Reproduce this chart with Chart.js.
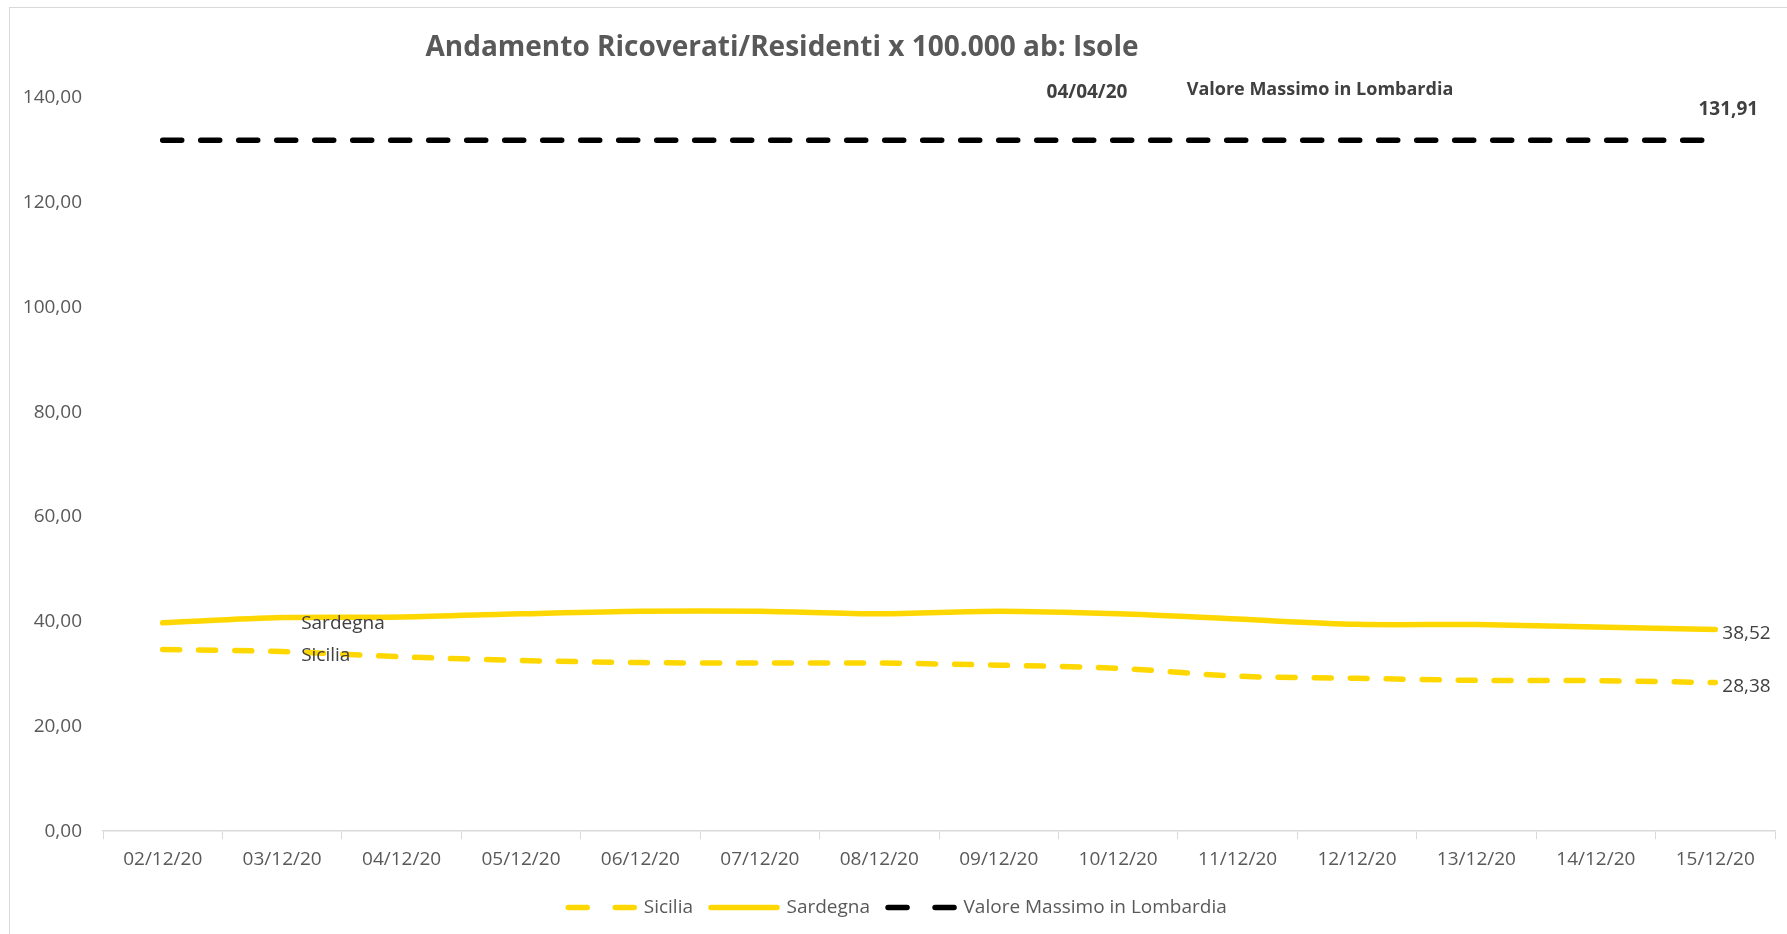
<!DOCTYPE html>
<html>
<head>
<meta charset="utf-8">
<script src="https://cdn.jsdelivr.net/npm/chart.js@4"></script>
<style>
  html, body { margin: 0; padding: 0; background: #fff; overflow: hidden; }
  #wrap { position: relative; width: 1787px; height: 934px; }
</style>
</head>
<body>
<div id="wrap"><canvas id="chart"></canvas></div>
<script>
const dates = ['02/12/20', '03/12/20', '04/12/20', '05/12/20', '06/12/20', '07/12/20', '08/12/20',
  '09/12/20', '10/12/20', '11/12/20', '12/12/20', '13/12/20', '14/12/20', '15/12/20'];
const sicilia = [34.7, 34.3, 33.3, 32.6, 32.2, 32.1, 32.1, 31.7, 31.1, 29.6, 29.2, 28.8, 28.75, 28.38];
const sardegna = [39.8, 40.8, 40.9, 41.5, 42.0, 42.0, 41.5, 42.0, 41.5, 40.5, 39.5, 39.45, 39.0, 38.52];
const lombardiaMax = [131.91, 131.91, 131.91, 131.91, 131.91, 131.91, 131.91,
  131.91, 131.91, 131.91, 131.91, 131.91, 131.91, 131.91];
const yTicks = [0, 20, 40, 60, 80, 100, 120, 140];

const FONT = "'Open Sans', sans-serif";
const GREY = '#595959';
const DARK = '#404040';
const GOLD = '#FFD700';

const fmt = v => v.toFixed(2).replace('.', ',');

// titolo, bordo, etichette
const extras = {
  id: 'extras',
  beforeDraw(chart) {
    const c = chart.ctx;
    c.save();
    c.strokeStyle = '#d9d9d9';
    c.lineWidth = 1;
    c.strokeRect(9.5, 7.5, 2000, 2000);
    c.restore();
  },
  afterDatasetsDraw(chart) {
    const c = chart.ctx;
    const sic = chart.getDatasetMeta(0).data;
    const sar = chart.getDatasetMeta(1).data;
    const lom = chart.getDatasetMeta(2).data;
    const last = dates.length - 1;
    c.save();
    c.fillStyle = GREY;
    c.textBaseline = 'middle';

    c.font = 'bold 28px ' + FONT;
    c.textAlign = 'center';
    c.fillText('Andamento Ricoverati/Residenti x 100.000 ab: Isole', 782, 48);

    c.fillStyle = DARK;
    c.font = 'bold 19px ' + FONT;
    c.fillText('04/04/20', 1087, 93);
    c.fillText(fmt(lombardiaMax[last]), lom[last].x + 13, lom[last].y - 31);
    c.font = 'bold 18px ' + FONT;
    c.fillText('Valore Massimo in Lombardia', 1320, 90);

    c.font = '19px ' + FONT;
    c.textAlign = 'left';
    c.fillText(fmt(sardegna[last]), sar[last].x + 7, sar[last].y + 4);
    c.fillText(fmt(sicilia[last]), sic[last].x + 7, sic[last].y + 4);
    c.fillText('Sardegna', sar[1].x + 19, sar[1].y + 6);
    c.fillText('Sicilia', sic[1].x + 19, sic[1].y + 4);
    c.restore();
  }
};

new Chart(document.getElementById('chart'), {
  type: 'line',
  data: {
    labels: dates,
    datasets: [
      {
        label: 'Sicilia', data: sicilia, borderColor: GOLD, backgroundColor: GOLD,
        borderWidth: 5.5, borderDash: [17, 19], borderCapStyle: 'round', tension: 0.3,
        pointRadius: 0,
      },
      {
        label: 'Sardegna', data: sardegna, borderColor: GOLD, backgroundColor: GOLD,
        borderWidth: 5.5, borderCapStyle: 'round', tension: 0.3, pointRadius: 0,
      },
      {
        label: 'Valore Massimo in Lombardia', data: lombardiaMax, borderColor: '#000',
        backgroundColor: '#000', borderWidth: 5.5, borderDash: [19, 19], borderCapStyle: 'round',
        pointRadius: 0,
      },
    ],
  },
  options: {
    responsive: true,
    maintainAspectRatio: false,
    animation: false,
    layout: { padding: { top: 98, left: 20, right: 12, bottom: 7 } },
    scales: {
      x: {
        offset: true,
        grid: { display: true, drawOnChartArea: false, offset: true, color: '#d9d9d9', tickLength: 8 },
        border: { display: true, color: '#d9d9d9', width: 1.5 },
        ticks: { color: GREY, font: { family: FONT, size: 19 }, padding: 9, maxRotation: 0 },
      },
      y: {
        min: 0, max: 140,
        afterBuildTicks: s => { s.ticks = yTicks.map(v => ({ value: v })); },
        afterFit: s => { s.width = 83; },
        grid: { display: false, drawTicks: false },
        border: { display: false },
        ticks: { color: GREY, font: { family: FONT, size: 19 }, padding: 21, callback: v => fmt(v) },
      },
    },
    plugins: {
      title: { display: false },
      tooltip: { enabled: false },
      legend: {
        position: 'bottom',
        labels: {
          usePointStyle: true,
          pointStyle: 'line',
          pointStyleWidth: 66,
          color: GREY,
          font: { family: FONT, size: 19 },
          padding: 18,
          generateLabels(chart) {
            const items = Chart.defaults.plugins.legend.labels.generateLabels(chart);
            items.forEach(it => {
              const ds = chart.data.datasets[it.datasetIndex];
              it.lineDash = ds.borderDash ? [19, 28] : [];
              it.lineWidth = ds.borderWidth;
              it.strokeStyle = ds.borderColor;
              it.lineCap = 'round';
            });
            return items;
          },
        },
      },
    },
  },
  plugins: [extras],
});
</script>
</body>
</html>
